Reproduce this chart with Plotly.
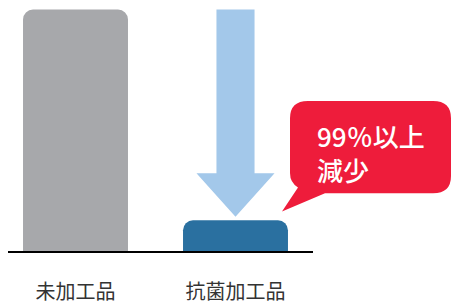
import plotly.graph_objects as go

categories = ["未加工品", "抗菌加工品"]
values = [100, 12.7]
bar_colors = ["#A7A8AB", "#2A70A0"]
callout_lines = ["99％以上", "減少"]

W, H = 451, 305
MB = 44  # bottom margin (px)
PH = H - MB  # plot height px

positions = list(range(len(categories)))

fig = go.Figure()
fig.add_trace(go.Bar(
    x=positions, y=values, width=0.656,
    marker=dict(color=bar_colors, line=dict(width=0)),
    hoverinfo="skip",
))

# arrow from top value down to just above the lower bar
cx = positions[1]
top = values[0]
tip = values[1] + 1.5
shaft = 0.119
head = 0.244
head_top = tip + 18.0
arrow = (f"M {cx-shaft},{top} L {cx+shaft},{top} L {cx+shaft},{head_top} "
         f"L {cx+head},{head_top} L {cx},{tip} L {cx-head},{head_top} "
         f"L {cx-shaft},{head_top} Z")
fig.add_shape(type="path", path=arrow, xref="x", yref="y",
              fillcolor="#A3C8EA", line=dict(width=0), layer="above")

# speech bubble (pixel geometry -> paper coords)
def P(x, y):
    return f"{x / W:.5f},{(PH - y) / PH:.5f}"

L_, R_, T_, B_, r = 290, 451, 105, 201, 18
bubble = (f"M {P(L_+r, T_)} L {P(R_-r, T_)} Q {P(R_, T_)} {P(R_, T_+r)} "
          f"L {P(R_, B_-r)} Q {P(R_, B_)} {P(R_-r, B_)} L {P(325, B_)} "
          f"L {P(282, 220)} L {P(298, 195)} Q {P(L_, 190)} {P(L_, B_-r-3)} "
          f"L {P(L_, T_+r)} Q {P(L_, T_)} {P(L_+r, T_)} Z")
fig.add_shape(type="path", path=bubble, xref="paper", yref="paper",
              fillcolor="#EE1C3B", line=dict(width=0), layer="above")

fig.add_annotation(
    x=315 / W, y=(PH - 120) / PH, xref="paper", yref="paper",
    xanchor="left", yanchor="top", align="left", showarrow=False,
    text="<br>".join(callout_lines),
    font=dict(family="Noto Sans CJK JP", size=26, color="white", weight=500),
)

fig.update_layout(
    width=W, height=H,
    margin=dict(l=0, r=0, t=0, b=MB),
    paper_bgcolor="white", plot_bgcolor="white",
    barcornerradius=10,
    showlegend=False,
    xaxis=dict(
        domain=[8 / W, 313 / W],
        range=[-(75.5 - 8) / 160, -(75.5 - 8) / 160 + 305 / 160],
        tickvals=positions, ticktext=categories,
        showgrid=False, zeroline=False,
        showline=True, linecolor="black", linewidth=1.5,
        ticks="", ticklabelstandoff=22,
        tickfont=dict(family="Noto Sans CJK JP", size=20, color="#333333"),
        fixedrange=True,
    ),
    yaxis=dict(
        range=[0, PH / 2.51], visible=False, fixedrange=True,
    ),
)

fig.write_html("out.html", config={"displayModeBar": False},
               post_script="document.body.style.margin='0';document.body.style.overflow='hidden';")
